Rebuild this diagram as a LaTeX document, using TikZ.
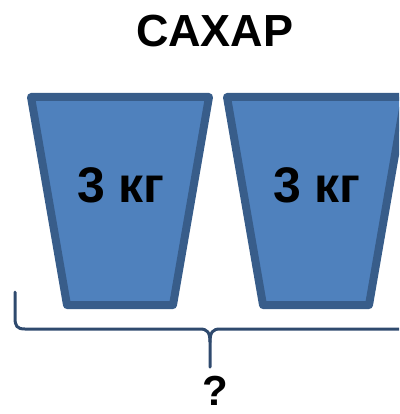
\documentclass[tikz,border=0pt]{standalone}
\usepackage{fontspec}
\setmainfont{Liberation Sans}
\definecolor{bucketfill}{HTML}{4F81BD}
\definecolor{bucketline}{HTML}{385D8A}
\definecolor{braceline}{HTML}{2F4A6E}
\begin{document}
\begin{tikzpicture}[x=1pt,y=-1pt,
  bucket/.style={fill=bucketfill,draw=bucketline,line width=8pt,line join=round},
  bracestyle/.style={draw=braceline,line width=3pt,line cap=round,line join=round},
  label/.style={font=\bfseries\fontsize{50}{50}\selectfont,text=black,inner sep=0pt,anchor=base},
  title/.style={font=\bfseries\fontsize{45}{45}\selectfont,text=black,inner sep=0pt,anchor=base}]
\useasboundingbox (0,0) rectangle (399,414);
\clip (0,0) rectangle (399,414);
\draw[bucket] (31,97) -- (209,97) -- (173,305) -- (67,305) -- cycle;
\draw[bucket] (227,97) -- (405,97) -- (369,305) -- (263,305) -- cycle;
\node[title] (t) at (215,47) {САХАР};
\node[label] (a) at (121,202) {3 кг};
\node[label] (b) at (317,202) {3 кг};
\draw[bracestyle] (15,292) -- (15,318) .. controls (15,326) and (17,329) .. (25,329)
  -- (200,329) .. controls (207,329) and (210,332) .. (210,342) -- (210,367);
\draw[bracestyle] (210,342) .. controls (210,332) and (213,329) .. (220,329) -- (410,329)
  .. controls (418,329) and (420,326) .. (420,318);
\node[title,font=\bfseries\fontsize{42}{42}\selectfont] (q) at (215,405) {?};
\end{tikzpicture}
\end{document}
